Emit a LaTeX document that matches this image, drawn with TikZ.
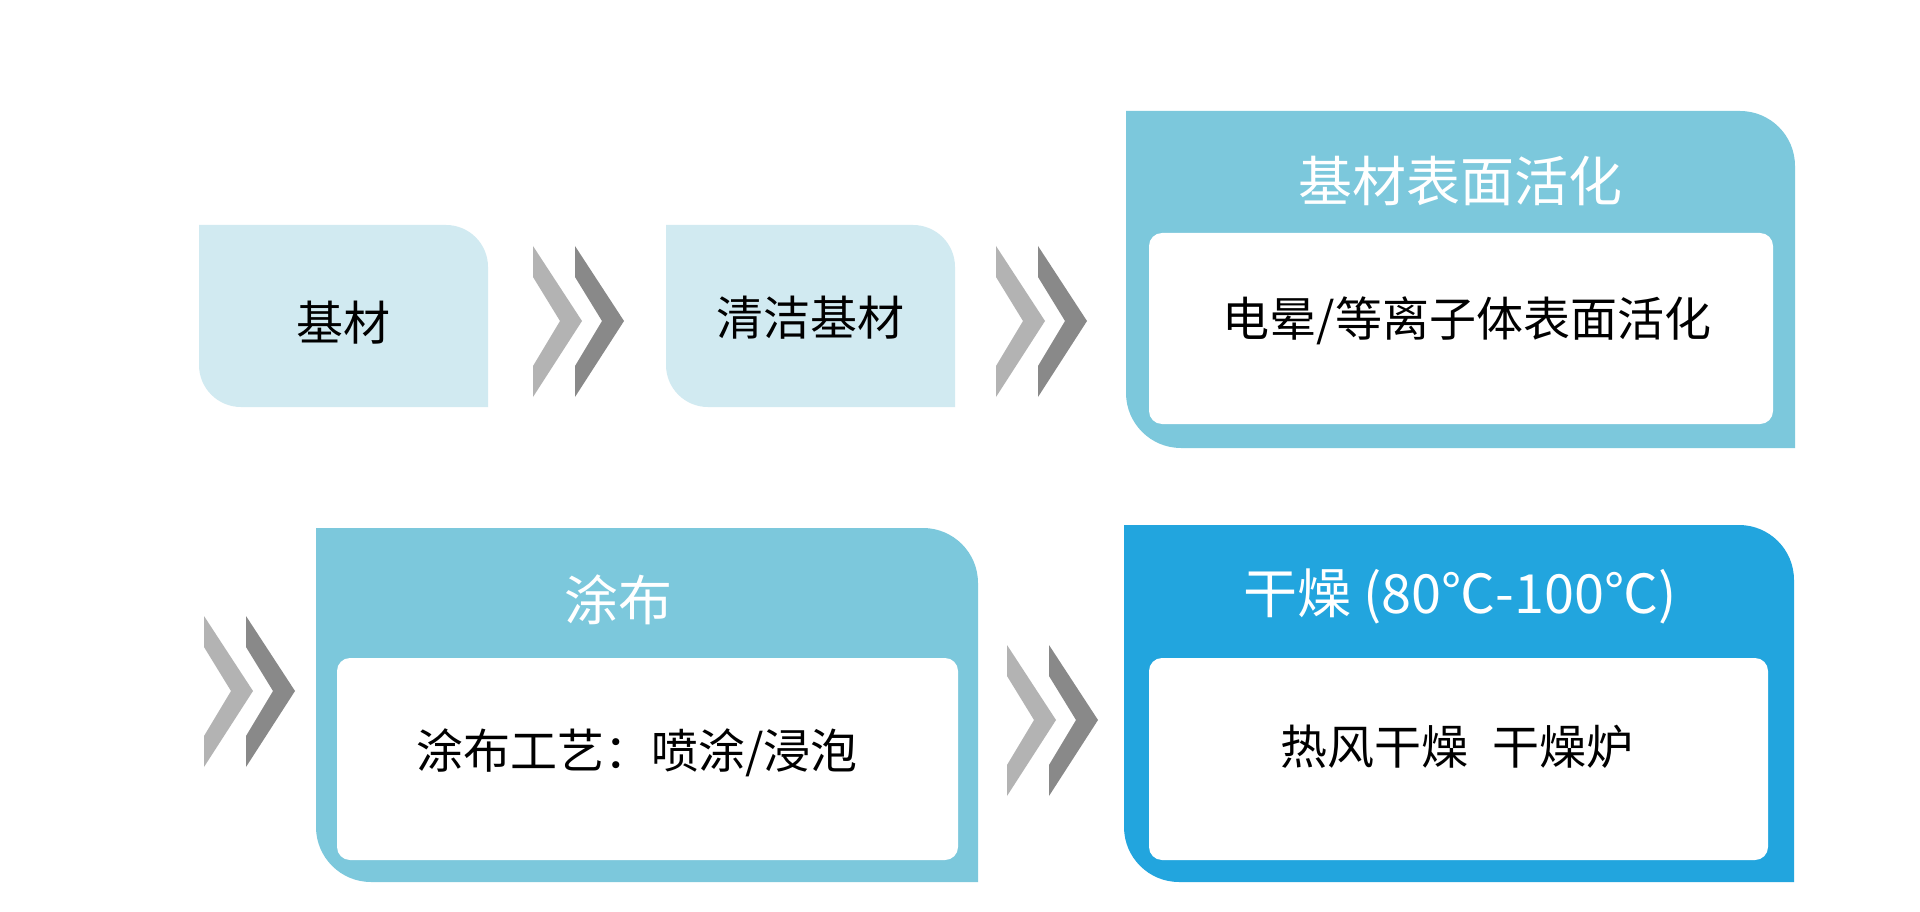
\documentclass[tikz,border=0pt]{standalone}
\usepackage{fontspec}
\setmainfont{Noto Sans CJK SC}
\definecolor{lightbox}{HTML}{D1EAF1}
\definecolor{midbox}{HTML}{7CC8DC}
\definecolor{darkbox}{HTML}{22A5DE}
\definecolor{chevlight}{HTML}{B3B3B3}
\definecolor{chevdark}{HTML}{898989}
\newcommand\tabshape[6]{% colour, x1, y1, x2, y2, r
  \fill[#1] (#2,#3) -- ({#4-#6},#3) arc[start angle=-90,end angle=0,radius=#6]
    -- (#4,#5) -- ({#2+#6},#5) arc[start angle=90,end angle=180,radius=#6] -- cycle;}
\newcommand\chevpair[2]{% top-left x, y
  \begin{scope}[shift={(#1,#2)}]
    \fill[chevlight] (0,0) -- (49,75) -- (0,151) -- (0,120) -- (27,75) -- (0,31) -- cycle;
    \fill[chevdark] (42,0) -- (91,75) -- (42,151) -- (42,120) -- (69,75) -- (42,31) -- cycle;
  \end{scope}}
\tikzset{
  title/.style={text=white,font=\fontsize{54}{60}\selectfont,inner sep=0pt},
  body/.style={text=black,font=\fontsize{47}{54}\selectfont,inner sep=0pt},
  inner/.style={fill=white,rounded corners=13pt}
}
\begin{document}
\begin{tikzpicture}[x=1pt,y=-1pt]
\useasboundingbox (0,0) rectangle (1920,912);
\fill[white] (0,0) rectangle (1920,912);
% row 1
\tabshape{lightbox}{199}{225}{488}{407}{42}
\node[body] (a) at (343.5,323) {基材};
\chevpair{533}{246}
\tabshape{lightbox}{666}{225}{955}{407}{42}
\node[body] (b) at (810.5,318) {清洁基材};
\chevpair{996}{246}
\tabshape{midbox}{1126}{111}{1795}{448}{55}
\fill[inner] (1149,233) rectangle (1773,424);
\node[title] (ct) at (1460,181) {基材表面活化};
\node[body] (cb) at (1467,321) {电晕/等离子体表面活化};
% row 2
\chevpair{204}{616}
\tabshape{midbox}{316}{528}{978}{882}{55}
\fill[inner] (337,658) rectangle (958,860);
\node[title] (dt) at (618,600) {涂布};
\node[body] (db) at (637,753) {涂布工艺：喷涂/浸泡};
\chevpair{1007}{645}
\tabshape{darkbox}{1124}{525}{1794}{882}{55}
\fill[inner] (1149,658) rectangle (1768,860);
\node[title] (et) at (1460,596) {干燥 (80℃-100℃)};
\node[body] (eb) at (1457,747) {热风干燥\hspace{0.5em}干燥炉};
\end{tikzpicture}
\end{document}
